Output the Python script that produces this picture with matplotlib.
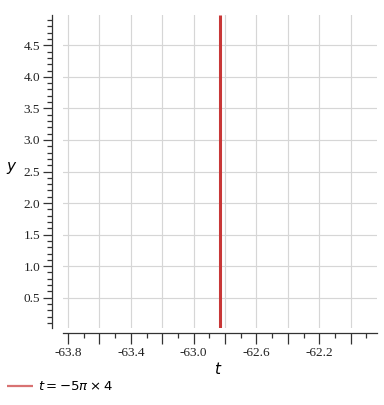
import numpy as np
import matplotlib
matplotlib.use("Agg")
import matplotlib.pyplot as plt
from matplotlib.font_manager import FontProperties
from matplotlib.ticker import MultipleLocator, FuncFormatter

# data: vertical line t = -5*pi*4
t_value = -5 * np.pi * 4
y_values = [0.02, 4.98]
t_values = [t_value, t_value]

line_color = "#c83737"

plt.rcParams["font.family"] = ["Liberation Serif", "DejaVu Serif"]
plt.rcParams["mathtext.fontset"] = "dejavusans"

fig = plt.figure(figsize=(3.84, 4.05), dpi=100)
ax = fig.add_axes([63 / 384, 1 - 328 / 405, 314 / 384, 313 / 405])

ax.plot(t_values, y_values, color=line_color, linewidth=2.2,
        solid_capstyle="butt", label=r"$t = -5\pi \times 4$", zorder=3)

ax.set_xlim(t_value - 1.0, t_value + 1.0)
ax.set_ylim(min(y_values), max(y_values))

# ticks
ax.xaxis.set_major_locator(MultipleLocator(0.2))
ax.xaxis.set_minor_locator(MultipleLocator(0.1))
ax.yaxis.set_major_locator(MultipleLocator(0.5))
ax.yaxis.set_minor_locator(MultipleLocator(0.1))


def x_label(v, pos):
    k = int(round(v / 0.2))
    if k % 2 == 0:
        return ""
    return f"{v:.1f}"


ax.xaxis.set_major_formatter(FuncFormatter(x_label))
ax.yaxis.set_major_formatter(FuncFormatter(lambda v, p: f"{v:.1f}"))

ax.tick_params(axis="both", which="both", width=0.9, color="#333333",
               labelcolor="#222222", labelsize=9.5)
ax.tick_params(axis="x", which="major", length=8, pad=2)
ax.tick_params(axis="x", which="minor", length=3.6)
ax.tick_params(axis="y", which="major", length=6.5, pad=2)
ax.tick_params(axis="y", which="minor", length=3.6)

ax.grid(True, which="major", color="#d6d6d6", linewidth=0.85)
ax.set_axisbelow(True)

for side in ["top", "right"]:
    ax.spines[side].set_visible(False)
ax.spines["left"].set_position(("outward", 8))
ax.spines["bottom"].set_position(("outward", 3.6))
for side in ["left", "bottom"]:
    ax.spines[side].set_color("#333333")
    ax.spines[side].set_linewidth(0.9)

ax.set_xlabel("$t$", fontsize=11)
ax.xaxis.set_label_coords((218 - 63) / 314, -(361 - 328) / 313)
ax.set_ylabel("$y$", fontsize=11, rotation=0, va="center", ha="center")
ax.yaxis.set_label_coords((12 - 63) / 314, 1 - (168 - 15) / 313)

leg = fig.legend(loc="center left", bbox_to_anchor=(7 / 384, 1 - 387 / 405),
                 frameon=False, prop=FontProperties(size=9.5),
                 handlelength=2.0, handletextpad=0.35,
                 borderpad=0, borderaxespad=0)
for h in leg.get_lines():
    h.set_alpha(0.7)
    h.set_linewidth(1.6)

fig.savefig("out.png", dpi=100)
